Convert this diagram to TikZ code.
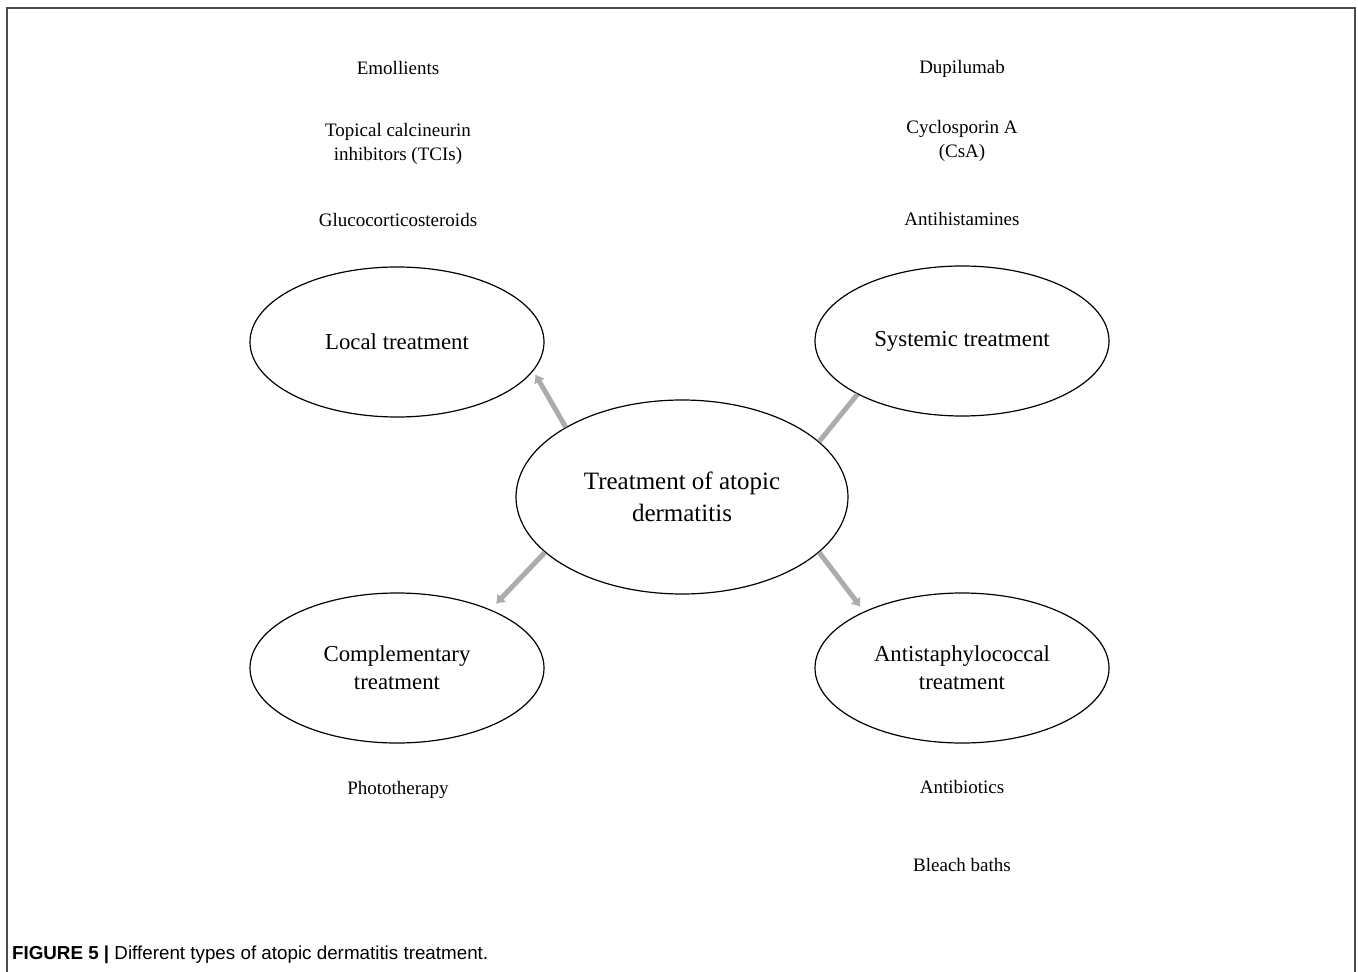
\documentclass[tikz,border=0pt]{standalone}
\usepackage{fontspec}
\setmainfont{Liberation Serif}
\newfontfamily\capfont{Liberation Sans}
\usetikzlibrary{shapes.geometric, arrows.meta, positioning}
\tikzstyle{branch}=[draw,ellipse,line width=0.6pt,minimum width=147pt,minimum height=75pt,align=center,font=\fontsize{11.4}{14}\selectfont]
\tikzstyle{item}=[align=center,font=\fontsize{9.5}{12}\selectfont]
\tikzstyle{link}=[draw=gray!65,line width=2.5pt]

\begin{document}
\begin{tikzpicture}[x=0.5pt,y=-0.5pt,node distance=38pt,>={Latex[length=4pt,width=6.5pt]}]
    \useasboundingbox (0,0) rectangle (1358,972);
    \draw[line width=1pt,black!70] (7,972) -- (7,8) -- (1355,8) -- (1355,972);

    \node[branch,minimum width=166pt,minimum height=97pt,font=\fontsize{12.5}{16}\selectfont] (ctr) at (682,497) {Treatment of atopic\\dermatitis};
    \node[branch] (local) at (397,342) {Local treatment};
    \node[branch] (syst) at (962,341) {\strut Systemic treatment};
    \node[branch] (compl) at (397,668) {Complementary\\treatment};
    \node[branch] (antis) at (962,668) {Antistaphylococcal\\treatment};

    \draw[link,->,shorten >=2pt] (ctr.149) -- (local.-12);
    \draw[link] (ctr.22) -- (syst.207);
    \draw[link,->,shorten >=4pt] (ctr.202) -- (compl.32);
    \draw[link,->,shorten >=3pt] (ctr.-22) -- (antis.150);

    \node[item] (emol) at (398,68) {Emollients};
    \node[item, below of=emol] (tci) {Topical calcineurin\\inhibitors (TCIs)};
    \node[item, below of=tci] (gluco) {Glucocorticosteroids};

    \node[item] (dupi) at (962,69) {Dupilumab};
    \node[item, below of=dupi, node distance=36pt] (csa) {Cyclosporin A\\(CsA)};
    \node[item, below of=csa, node distance=39pt] (antih) {Antihistamines};

    \node[item] (photo) at (398,790) {Phototherapy};

    \node[item] (antib) at (962,787) {Antibiotics};
    \node[item, below of=antib, node distance=39pt] (bleach) {Bleach baths};

    \node[anchor=west,font=\capfont\fontsize{9.4}{11}\selectfont] (cap) at (5,955) {\textbf{FIGURE 5 |} Different types of atopic dermatitis treatment.};
\end{tikzpicture}
\end{document}
